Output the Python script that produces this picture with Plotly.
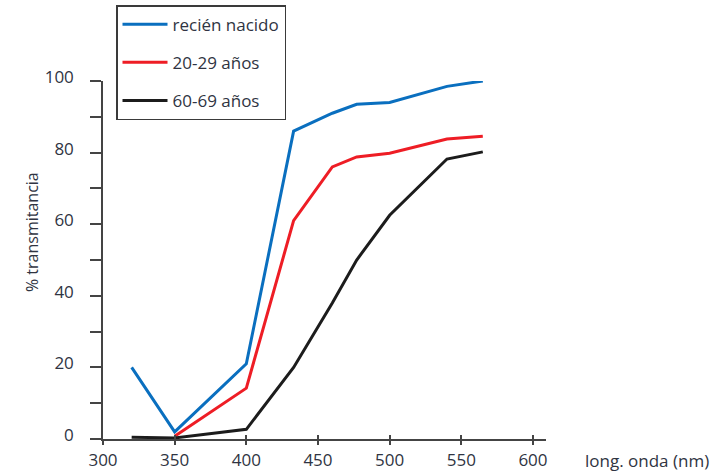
import plotly.graph_objects as go

wavelength = [320, 350, 400, 433, 460, 477, 500, 540, 565]
recien_nacido = [20, 2.0, 21, 86, 91, 93.5, 94, 98.5, 100]
anios_20_29 = [None, 0.8, 14.2, 61, 76, 78.8, 79.8, 83.8, 84.6]
anios_60_69 = [0.5, 0.3, 2.7, 20, 38, 50, 62.5, 78.2, 80.2]

series_names = ["recién nacido", "20-29 años", "60-69 años"]
series_colors = ["#0a6fbf", "#ee1d25", "#1c1c1c"]
x_ticks = [300, 350, 400, 450, 500, 550, 600]

TXT = "#2f3442"
AX = "#444444"
FONT = "Open Sans"

fig = go.Figure()
for name, ys, col in zip(series_names, [recien_nacido, anios_20_29, anios_60_69], series_colors):
    fig.add_trace(go.Scatter(
        x=wavelength, y=ys, mode="lines", name=name,
        line=dict(color=col, width=3), legendgroup=name,
        cliponaxis=False, connectgaps=False,
    ))

# invisible trace for the overlay axis (crossing ticks)
fig.add_trace(go.Scatter(x=[x_ticks[0]], y=[0], xaxis="x2", mode="markers",
                         marker=dict(opacity=0), showlegend=False, hoverinfo="skip"))

fig.update_layout(
    width=718, height=476,
    margin=dict(l=103, r=172, t=81, b=37, autoexpand=False),
    plot_bgcolor="white", paper_bgcolor="white",
    font=dict(family=FONT, size=15, color=TXT),
    showlegend=True,
    legend=dict(
        x=(116 - 103) / 443, y=1 + (81 - 5) / 358.6, xanchor="left", yanchor="top",
        bordercolor="#3a3a3a", borderwidth=1.5, bgcolor="white",
        font=dict(family=FONT, size=17, color=TXT),
        tracegroupgap=13, itemwidth=45,
    ),
    xaxis=dict(
        range=[300, 609.1], showgrid=False, zeroline=False,
        showline=True, linecolor=AX, linewidth=1.5,
        tickvals=x_ticks, ticks="outside", ticklen=4, tickwidth=1.5, tickcolor=AX,
        tickfont=dict(family=FONT, size=17, color=TXT),
        ticklabelstandoff=1,
    ),
    xaxis2=dict(
        overlaying="x", matches="x", anchor="y", side="bottom",
        showgrid=False, zeroline=False, showline=False,
        tickvals=x_ticks, ticks="inside", ticklen=4, tickwidth=1.5, tickcolor=AX,
        showticklabels=False,
    ),
    yaxis=dict(
        range=[0, 100], showgrid=False, zeroline=False,
        showline=True, linecolor=AX, linewidth=1.5,
        tickvals=[0, 20, 40, 60, 80, 100], ticks="outside", ticklen=11, tickwidth=1.5, tickcolor=AX,
        minor=dict(tickvals=[10, 30, 50, 70, 90], ticks="outside", ticklen=11, tickwidth=1.5, tickcolor=AX),
        tickfont=dict(family=FONT, size=17, color=TXT),
        ticklabelstandoff=13, ticklabelshift=-4,
    ),
    shapes=[dict(type="line", xref="paper", yref="y", x0=-11 / 443, x1=0, y0=0, y1=0,
                 line=dict(color=AX, width=1.5))],
    annotations=[
        dict(text="% transmitancia", xref="paper", yref="paper",
             x=(32 - 103) / 443, y=(439.3 - 232) / 358.6, textangle=-90,
             showarrow=False, xanchor="center", yanchor="middle",
             font=dict(family=FONT, size=16, color=TXT)),
        dict(text="long. onda (nm)", xref="paper", yref="paper",
             x=(583 - 103) / 443, y=(439.3 - 461) / 358.6,
             showarrow=False, xanchor="left", yanchor="middle",
             font=dict(family=FONT, size=17, color=TXT)),
    ],
)

fig.write_html("out.html")
